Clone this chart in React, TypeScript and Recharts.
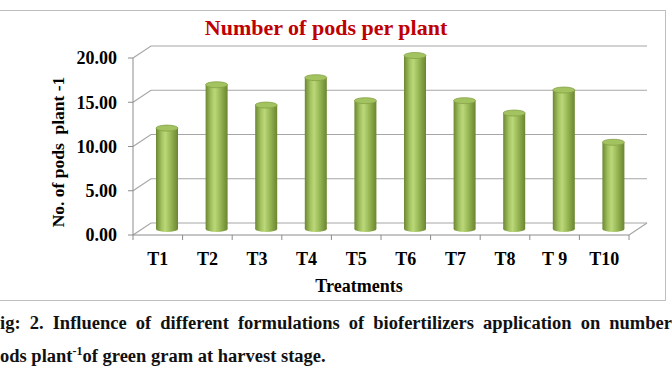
import React from 'react';
import { BarChart, Bar, XAxis, YAxis, CartesianGrid } from 'recharts';

const treatments = ['T1', 'T2', 'T3', 'T4', 'T5', 'T6', 'T7', 'T8', 'T 9', 'T10'];
const podsPerPlant = [11.4, 16.3, 14.0, 17.1, 14.5, 19.6, 14.5, 13.1, 15.7, 9.8];
const yTicks = [0, 5, 10, 15, 20];

const chartData = treatments.map((t, i) => ({ name: t, pods: podsPerPlant[i] }));

// 3D depth offsets (back wall and middle of depth)
const DX = 18;
const DY = -12;
const serif = '"Liberation Serif", "Times New Roman", serif';
const gridColor = '#a6a6a6';

const Cylinder = (props: any) => {
  const { x, y, width, height } = props;
  const cx = x + DX / 2;
  const cy = y + DY / 2;
  const ry = 3;
  return (
    <g>
      <rect x={cx} y={cy} width={width} height={height} fill="url(#cyl)" />
      <ellipse cx={cx + width / 2} cy={cy + height} rx={width / 2} ry={ry} fill="url(#cyl)" />
      <ellipse cx={cx + width / 2} cy={cy} rx={width / 2} ry={ry} fill="#a3c260" stroke="#84a244" strokeWidth={0.8} />
    </g>
  );
};

const gridLine = (props: any) => {
  const { x1, y1, x2, y2, index } = props;
  const isFloor = Math.abs(y1 - 235) < 2;
  const d = `M${x1},${y1} L${x1 + DX},${y1 + DY} L${x2 + DX},${y2 + DY}`;
  const ticks: React.ReactNode[] = [];
  if (isFloor) {
    const step = (x2 - x1) / treatments.length;
    for (let i = 0; i <= treatments.length; i++) {
      ticks.push(
        <line key={i} x1={x1 + step * i} y1={y1} x2={x1 + step * i} y2={y1 + 5} stroke="#8c8c8c" />
      );
    }
  }
  return (
    <g key={`g-${index}`}>
      <path d={d} fill="none" stroke={gridColor} strokeWidth={1.2} />
      {isFloor && (
        <path d={`M${x2},${y2} L${x2 + DX},${y2 + DY}`} fill="none" stroke={gridColor} strokeWidth={1.2} />
      )}
      {ticks}
    </g>
  );
};

export default function App() {
  return (
    <div
      style={{
        position: 'absolute',
        left: 0,
        top: 0,
        width: 672,
        height: 372,
        overflow: 'hidden',
        background: '#fff',
        fontFamily: serif,
      }}
    >
      <div
        style={{
          position: 'absolute',
          left: 0,
          top: 10,
          width: 666,
          height: 291,
          borderTop: '1.5px solid #bfbfbf',
          borderRight: '1.5px solid #bfbfbf',
          borderBottom: '1.5px solid #bfbfbf',
          boxSizing: 'border-box',
        }}
      />
      <div
        style={{
          position: 'absolute',
          left: 0,
          width: 652,
          top: 15,
          textAlign: 'center',
          color: '#c00000',
          fontWeight: 'bold',
          fontSize: 22,
          lineHeight: '26px',
        }}
      >
        Number of pods per plant
      </div>
      <div style={{ position: 'absolute', left: 0, top: 0 }}>
        <BarChart
          width={672}
          height={372}
          data={chartData}
          margin={{ top: 58, right: 43, left: 0, bottom: 107 }}
          barSize={22}
        >
          <defs>
            <linearGradient id="cyl" x1="0" y1="0" x2="1" y2="0">
              <stop offset="0%" stopColor="#6c8733" />
              <stop offset="25%" stopColor="#a2c25e" />
              <stop offset="42%" stopColor="#bcd87a" />
              <stop offset="65%" stopColor="#9aba57" />
              <stop offset="100%" stopColor="#6a8530" />
            </linearGradient>
          </defs>
          <CartesianGrid vertical={false} horizontal={gridLine} />
          <XAxis
            dataKey="name"
            height={30}
            interval={0}
            axisLine={{ stroke: '#8c8c8c' }}
            tickLine={false}
            tickMargin={11}
            tick={{ fill: '#000', fontSize: 18, fontWeight: 'bold', fontFamily: serif }}
            label={() => (
              <text x={359} y={292} textAnchor="middle" fontSize={18} fontWeight="bold" fontFamily={serif} fill="#000">
                Treatments
              </text>
            )}
          />
          <YAxis
            width={133}
            domain={[0, 20]}
            ticks={yTicks}
            tickFormatter={(v: number) => v.toFixed(2)}
            axisLine={{ stroke: '#8c8c8c' }}
            tickLine={{ stroke: '#8c8c8c' }}
            tickSize={5}
            tickMargin={11}
            tick={{ fill: '#000', fontSize: 18, fontWeight: 'bold', fontFamily: serif }}
            label={() => (
              <text
                x={58}
                y={152}
                transform="rotate(-90 58 152)"
                textAnchor="middle"
                dominantBaseline="central"
                fontSize={17.5}
                fontWeight="bold"
                fontFamily={serif}
                fill="#000"
                style={{ whiteSpace: 'pre' }}
              >
                {'No. of pods  plant -1'}
              </text>
            )}
          />
          <Bar dataKey="pods" fill="#9bbb59" shape={Cylinder} isAnimationActive={false} />
        </BarChart>
      </div>
      <div
        style={{
          position: 'absolute',
          left: 0,
          top: 311,
          width: 672,
          fontWeight: 'bold',
          fontSize: 18.5,
          lineHeight: '24px',
          whiteSpace: 'nowrap',
          textAlign: 'justify',
          textAlignLast: 'justify',
          color: '#111',
        }}
      >
        ig: 2. Influence of different formulations of biofertilizers application on number
      </div>
      <div
        style={{
          position: 'absolute',
          left: 0,
          top: 344,
          fontWeight: 'bold',
          fontSize: 18.5,
          lineHeight: '24px',
          whiteSpace: 'nowrap',
          color: '#111',
        }}
      >
        ods plant<sup style={{ fontSize: 12, verticalAlign: 'top', lineHeight: '14px' }}>-1</sup>of green gram at harvest stage.
      </div>
    </div>
  );
}
